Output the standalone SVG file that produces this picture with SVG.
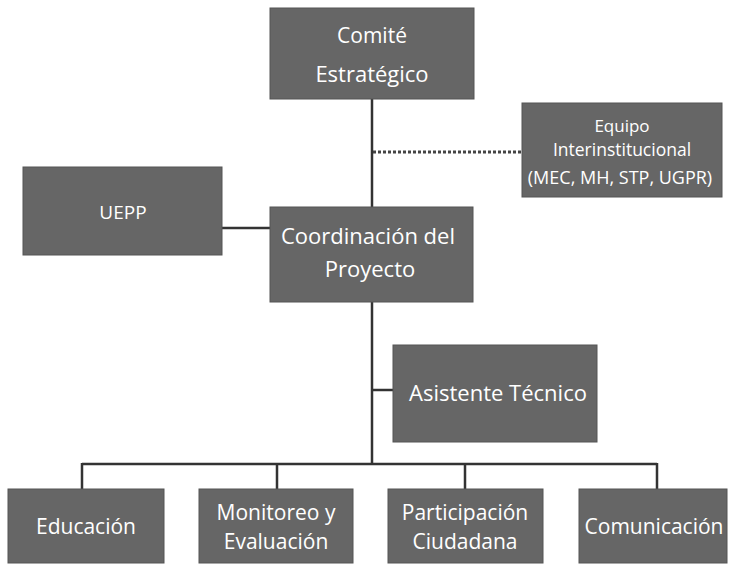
<svg xmlns="http://www.w3.org/2000/svg" width="729" height="567" viewBox="0 0 729 567">
<style>
.box{fill:#666;stroke:#555;stroke-width:1}
.t{font-family:"Open Sans","Liberation Sans",sans-serif;fill:#fff;text-anchor:middle}
.b21{font-size:21px}
.b22{font-size:22px}
.line{stroke:#333;stroke-width:2.5;fill:none}
.dot{stroke:#444;stroke-width:3;stroke-dasharray:3 2;fill:none}
</style>
<rect width="729" height="567" fill="#fff"/>
<g id="connectors">
<path class="line" d="M372 99V207"/>
<path class="dot" d="M373 152H522"/>
<path class="line" d="M222 228H270"/>
<path class="line" d="M372 302V464"/>
<path class="line" d="M372 390H393"/>
<path class="line" d="M82 464H657M82 463V489M277 463V489M465 463V489M657 463V489"/>
</g>
<g id="comite"><rect class="box" x="270" y="8" width="204" height="91"/>
<text class="t b21" x="372" y="43">Comité</text><text class="t b22" x="372" y="82">Estratégico</text></g>
<g id="equipo"><rect class="box" x="522" y="103" width="200" height="94"/>
<text class="t" x="622" y="132" style="font-size:17px">Equipo</text><text class="t" x="622" y="156" style="font-size:17.5px">Interinstitucional</text><text class="t" x="620" y="184" style="font-size:18px">(MEC, MH, STP, UGPR)</text></g>
<g id="uepp"><rect class="box" x="23" y="167" width="199" height="88"/>
<text class="t" x="123" y="219" style="font-size:19px">UEPP</text></g>
<g id="coordinacion"><rect class="box" x="270" y="207" width="203" height="95"/>
<text class="t b22" x="368" y="244">Coordinación del</text><text class="t b22" x="370" y="277">Proyecto</text></g>
<g id="asistente"><rect class="box" x="393" y="345" width="204" height="97"/>
<text class="t b22" x="498" y="401">Asistente Técnico</text></g>
<g id="educacion"><rect class="box" x="8" y="489" width="156" height="74"/>
<text class="t b21" x="86" y="534">Educación</text></g>
<g id="monitoreo"><rect class="box" x="199" y="489" width="154" height="74"/>
<text class="t b21" x="276" y="520">Monitoreo y</text><text class="t b21" x="276" y="549">Evaluación</text></g>
<g id="participacion"><rect class="box" x="388" y="489" width="155" height="74"/>
<text class="t b21" x="465" y="520">Participación</text><text class="t b21" x="465" y="549">Ciudadana</text></g>
<g id="comunicacion"><rect class="box" x="579" y="489" width="148" height="74"/>
<text class="t b21" x="654" y="534">Comunicación</text></g>
</svg>
